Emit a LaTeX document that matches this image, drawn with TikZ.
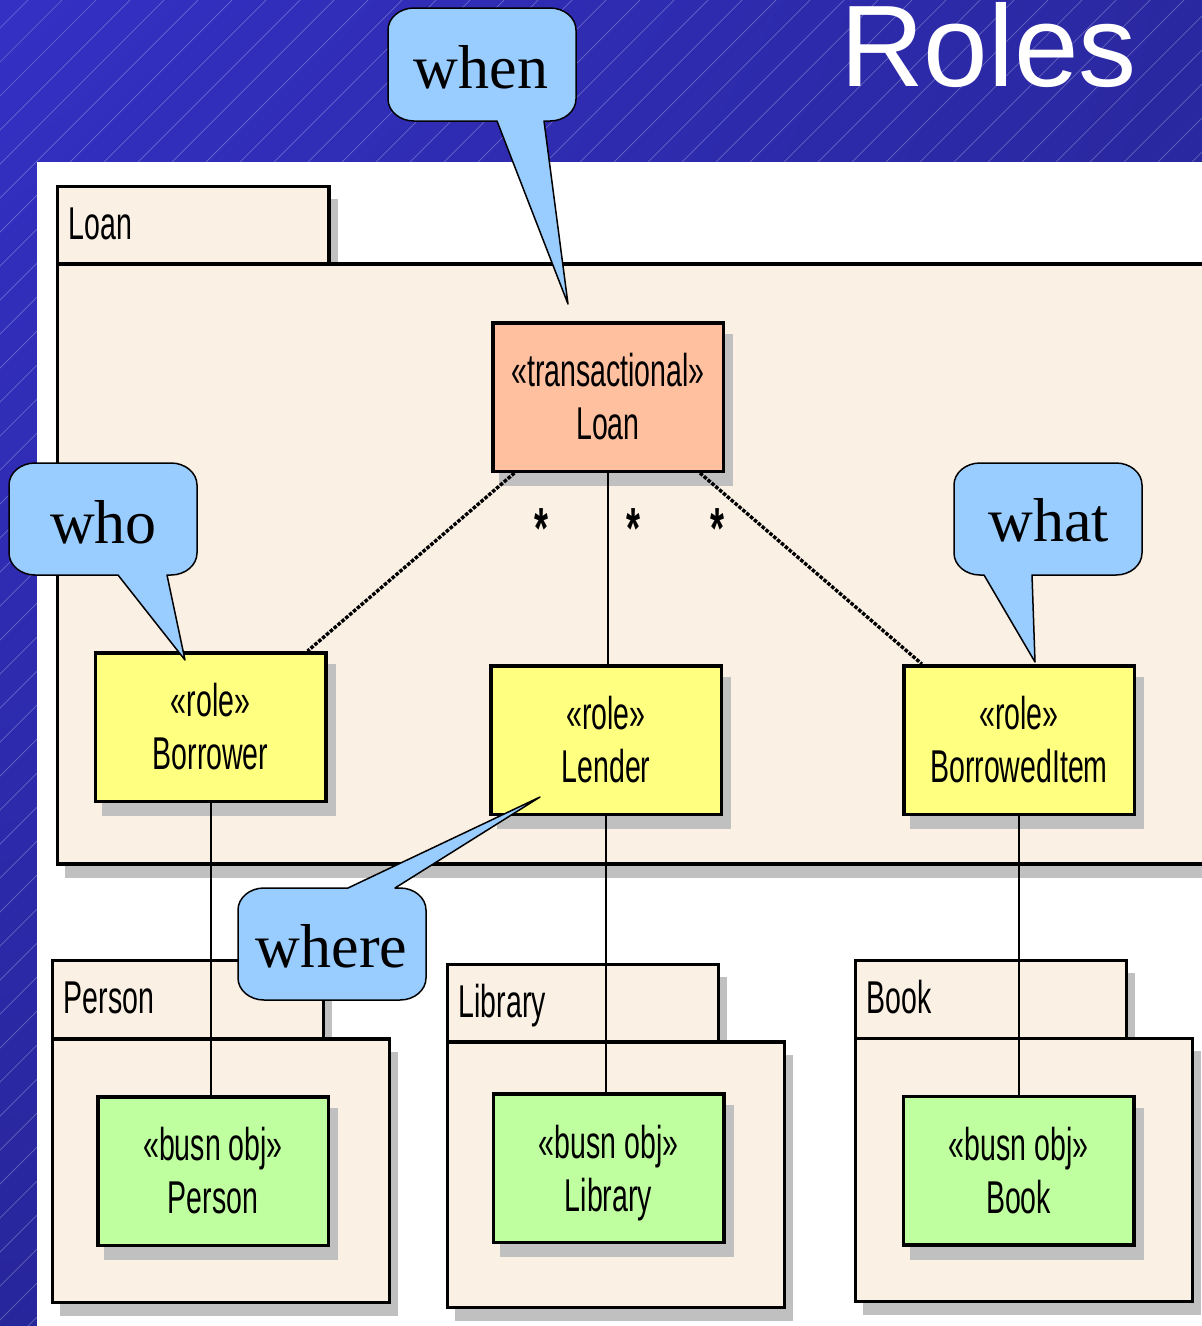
\documentclass[tikz,border=0pt]{standalone}
\usepackage{fontspec}
\setmainfont{Liberation Serif}
\newfontfamily\umlf[FakeStretch=0.62]{Liberation Sans}
\newfontfamily\titlef{Liberation Sans}
\usetikzlibrary{calc,shadings}

\definecolor{bgA}{RGB}{52,48,196}
\definecolor{bgB}{RGB}{42,40,160}
\definecolor{bgC}{RGB}{40,38,155}
\definecolor{pkgc}{RGB}{250,240,228}
\definecolor{shadowc}{RGB}{192,192,192}
\definecolor{loanc}{RGB}{255,192,160}
\definecolor{rolec}{RGB}{255,255,128}
\definecolor{busnc}{RGB}{192,255,160}
\definecolor{bubblec}{RGB}{153,204,255}

\tikzset{
  dropshade/.style={preaction={draw=shadowc, fill=shadowc, transform canvas={shift={(8pt,-13pt)}}}},
  classbox/.style={draw, line width=3.5pt, inner sep=0pt, minimum width=230.5pt,
    minimum height=148.5pt, align=center, dropshade,
    font=\umlf\fontsize{46}{53}\selectfont},
  pkgshape/.style={draw, fill=pkgc, line width=3.5pt, dropshade},
  pkglabel/.style={anchor=base west, inner sep=0pt, font=\umlf\fontsize{46}{53}\selectfont},
  assoc/.style={draw, line width=2pt},
  assocdot/.style={draw, line width=3.4pt, dash pattern=on 3.6pt off 1.5pt},
  mult/.style={anchor=base, inner sep=0pt, font=\umlf\bfseries\fontsize{58}{58}\selectfont},
  bubble/.style={draw, fill=bubblec, line width=1.5pt, line join=round},
  bubbletext/.style={anchor=base, inner sep=0pt, font=\fontsize{62}{62}\selectfont},
  stripe/.style={draw=white, draw opacity=0.28, line width=0.7pt},
}

% package: #1 label name, #2 left, #3 tab top, #4 tab right, #5 body top,
% #6 body right, #7 bottom, #8 label text
\newcommand\umlpkg[8]{%
  \path[pkgshape] (#2,#3) rectangle (#4,#5);
  \path[pkgshape] (#2,#5) rectangle (#6,#7);
  \node[pkglabel] (#1) at ({#2+11},{#3+53}) {#8};
}

% callout with the tail below: box #1..#4, tail base #5,#6, tip (#7,#8)
\newcommand\calloutdown[8]{%
  \draw[bubble] ({#1+26},#2) -- ({#3-26},#2)
    .. controls ({#3-11.6},#2) and (#3,{#2+9.9}) .. (#3,{#2+22})
    -- (#3,{#4-22})
    .. controls (#3,{#4-9.9}) and ({#3-11.6},#4) .. ({#3-26},#4)
    -- (#6,#4) -- (#7,#8) -- (#5,#4) -- ({#1+26},#4)
    .. controls ({#1+11.6},#4) and (#1,{#4-9.9}) .. (#1,{#4-22})
    -- (#1,{#2+22})
    .. controls (#1,{#2+9.9}) and ({#1+11.6},#2) .. ({#1+26},#2) -- cycle;
}
% callout with the tail above
\newcommand\calloutup[8]{%
  \draw[bubble] ({#1+26},#2) -- (#5,#2) -- (#7,#8) -- (#6,#2) -- ({#3-26},#2)
    .. controls ({#3-11.6},#2) and (#3,{#2+9.9}) .. (#3,{#2+22})
    -- (#3,{#4-22})
    .. controls (#3,{#4-9.9}) and ({#3-11.6},#4) .. ({#3-26},#4)
    -- ({#1+26},#4)
    .. controls ({#1+11.6},#4) and (#1,{#4-9.9}) .. (#1,{#4-22})
    -- (#1,{#2+22})
    .. controls (#1,{#2+9.9}) and ({#1+11.6},#2) .. ({#1+26},#2) -- cycle;
}

\begin{document}
\begin{tikzpicture}[x=1pt, y=-1pt]
\useasboundingbox (0,0) rectangle (1202,1326);
\clip (0,0) rectangle (1202,1326);

% slide background
\shade[upper left=bgA, upper right=bgB, lower left=bgC, lower right=bgC]
  (0,0) rectangle (1202,1326);
\foreach \i in {-1400,-1366,...,1300}
  \draw[stripe] (\i,1326) -- ({\i+1326},0);
\fill[white] (37,162) rectangle (1202,1326);

\node[anchor=base west, inner sep=0pt, text=white,
  font=\titlef\fontsize{116}{116}\selectfont] (title) at (840,86) {Roles};

% Loan package
\umlpkg{loanpkg}{57.5}{186.5}{329}{264}{1230}{864}{Loan}

\node[classbox, fill=loanc] (loan) at (608,397) {«transactional»\\Loan};
\node[classbox, fill=rolec] (borrower) at (210.5,727) {«role»\\Borrower};
\node[classbox, fill=rolec] (lender) at (606,740) {«role»\\Lender};
\node[classbox, fill=rolec] (borroweditem) at (1019,740) {«role»\\BorrowedItem};

% business object packages
\umlpkg{personpkg}{52.5}{960.5}{323.5}{1039}{389.5}{1302.5}{Person}
\umlpkg{librarypkg}{447.5}{964.5}{718.5}{1042}{784.5}{1307.5}{Library}
\umlpkg{bookpkg}{855.5}{960.5}{1126.5}{1038.5}{1192.5}{1301.5}{Book}

\node[classbox, fill=busnc] (person) at (213,1171) {«busn obj»\\Person};
\node[classbox, fill=busnc] (library) at (608.5,1168) {«busn obj»\\\smash{Library}};
\node[classbox, fill=busnc] (book) at (1018.5,1170.5) {«busn obj»\\Book};

% associations
\draw[assoc] (loan.south) -- (loan.south |- lender.north);
\draw[assocdot] ($(loan.south west)!0.1!(loan.south east)$)
  -- ($(borrower.north west)!0.915!(borrower.north east)$);
\draw[assocdot] ($(loan.south west)!0.893!(loan.south east)$)
  -- ($(borroweditem.north west)!0.085!(borroweditem.north east)$);
\draw[assoc] (borrower.south) -- (borrower.south |- person.north);
\draw[assoc] (lender.south) -- (lender.south |- library.north);
\draw[assoc] (borroweditem.south) -- (borroweditem.south |- book.north);

\node[mult] (m1) at (541,548) {*};
\node[mult] (m2) at (633,548) {*};
\node[mult] (m3) at (717,548) {*};

% callouts
\calloutdown{388}{8}{576}{121}{497}{544}{568}{304}
\node[bubbletext] (when) at (481,88) {when};
\calloutdown{9}{463}{197}{575}{118}{167}{185}{660}
\node[bubbletext] (who) at (103.5,543) {who};
\calloutdown{954}{463}{1142}{575}{984}{1032}{1035}{662}
\node[bubbletext] (what) at (1048.5,541) {what};
\calloutup{238}{888}{426}{1000}{348}{395}{540}{797}
\node[bubbletext] (where) at (331.5,967) {where};
\end{tikzpicture}
\end{document}
